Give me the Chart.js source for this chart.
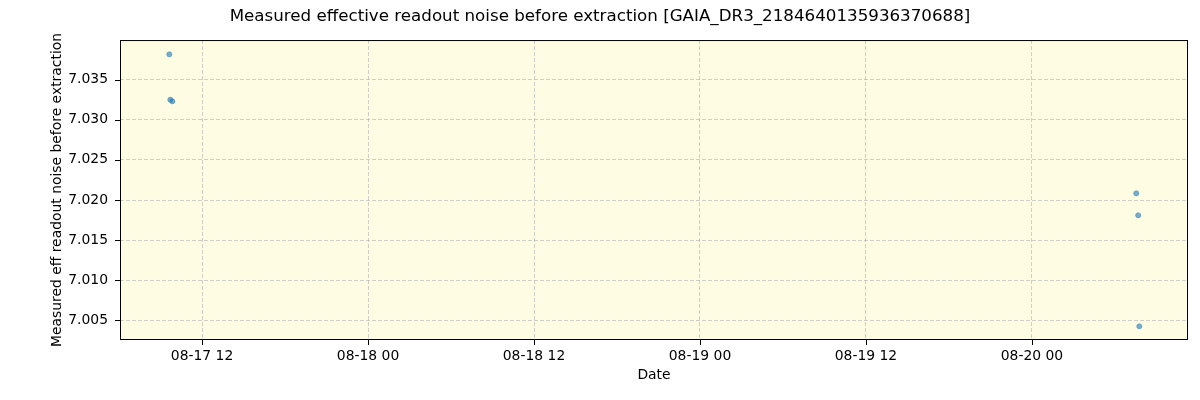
<!DOCTYPE html>
<html>
<head>
<meta charset="utf-8">
<script src="https://cdn.jsdelivr.net/npm/chart.js@4/dist/chart.umd.min.js"></script>
<style>
  html, body { margin: 0; padding: 0; background: #fff; }
  #wrap { width: 1200px; height: 400px; }
</style>
</head>
<body>
<div id="wrap"><canvas id="noiseChart" width="1200" height="400"></canvas></div>
<script>
// hours since 08-17 00:00
const obsHours = [9.636, 9.708, 9.855, 79.54, 79.68, 79.76];
const noiseValues = [7.03814, 7.03249, 7.03229, 7.02083, 7.01810, 7.00428];

const xTickHours = [12, 24, 36, 48, 60, 72];
const xTickLabels = ['08-17 12', '08-18 00', '08-18 12', '08-19 00', '08-19 12', '08-20 00'];
const yTicks = [7.005, 7.010, 7.015, 7.020, 7.025, 7.030, 7.035];

const fontFamily = '"DejaVu Sans", sans-serif';

// plot background, frame and outside tick marks like matplotlib
const framePlugin = {
    id: 'frame',
    beforeDraw(chart) {
        const a = chart.chartArea;
        const ctx = chart.ctx;
        ctx.save();
        ctx.fillStyle = '#fefde3';
        ctx.fillRect(a.left, a.top, a.right - a.left, a.bottom - a.top);
        ctx.restore();
    },
    afterDraw(chart) {
        const a = chart.chartArea;
        const ctx = chart.ctx;
        ctx.save();
        ctx.strokeStyle = '#000';
        ctx.lineWidth = 1;
        ctx.strokeRect(a.left + 0.5, a.top + 0.5, a.right - a.left - 1, a.bottom - a.top - 1);
        ctx.beginPath();
        xTickHours.forEach(h => {
            const px = Math.round(chart.scales.x.getPixelForValue(h)) + 0.5;
            ctx.moveTo(px, a.bottom);
            ctx.lineTo(px, a.bottom + 5);
        });
        yTicks.forEach(v => {
            const py = Math.round(chart.scales.y.getPixelForValue(v)) + 0.5;
            ctx.moveTo(a.left - 5, py);
            ctx.lineTo(a.left, py);
        });
        ctx.stroke();
        ctx.restore();
    }
};

const ctx = document.getElementById('noiseChart').getContext('2d');
const noiseChart = new Chart(ctx, {
    type: 'scatter',
    data: {
        datasets: [{
            label: 'eff readout noise',
            data: obsHours.map((h, i) => ({x: h, y: noiseValues[i]})),
            backgroundColor: 'rgba(31,119,180,0.6)',
            borderColor: 'rgba(31,119,180,0.75)',
            borderWidth: 0.5,
            pointRadius: 2.6
        }]
    },
    options: {
        responsive: false,
        animation: false,
        layout: { padding: 0 },
        plugins: {
            legend: { display: false },
            tooltip: { enabled: false },
            title: {
                display: true,
                text: 'Measured effective readout noise before extraction [GAIA_DR3_2184640135936370688]',
                color: '#000',
                font: { family: fontFamily, size: 16.7, weight: 'normal' },
                padding: { top: 7, bottom: 13 }
            }
        },
        scales: {
            x: {
                type: 'linear',
                min: 6.07,
                max: 83.28,
                afterBuildTicks(scale) {
                    scale.ticks = xTickHours.map(v => ({value: v}));
                },
                afterFit(scale) { scale.height = 60; },
                ticks: {
                    color: '#000',
                    padding: 8,
                    maxRotation: 0,
                    font: { family: fontFamily, size: 13.9 },
                    callback: (value) => xTickLabels[xTickHours.indexOf(value)]
                },
                grid: { color: 'rgba(176,176,176,0.6)', lineWidth: 1, drawTicks: false },
                border: { display: false, dash: [4, 2] },
                title: {
                    display: true,
                    text: 'Date',
                    color: '#000',
                    font: { family: fontFamily, size: 13.9 },
                    padding: { top: 0, bottom: 16.6 }
                }
            },
            y: {
                min: 7.00257,
                max: 7.03992,
                afterBuildTicks(scale) {
                    scale.ticks = yTicks.map(v => ({value: v}));
                },
                afterFit(scale) { scale.width = 120; },
                ticks: {
                    color: '#000',
                    padding: 12,
                    font: { family: fontFamily, size: 13.9 },
                    callback: (value) => value.toFixed(3)
                },
                grid: { color: 'rgba(176,176,176,0.6)', lineWidth: 1, drawTicks: false },
                border: { display: false, dash: [4, 2] },
                title: {
                    display: true,
                    text: 'Measured eff readout noise before extraction',
                    color: '#000',
                    font: { family: fontFamily, size: 13.9 },
                    padding: { top: 48.6, bottom: 0 }
                }
            },
            // empty right margin so the title stays centred on the canvas
            rightGap: {
                position: 'right',
                min: 0,
                max: 1,
                afterFit(scale) { scale.width = 12; },
                ticks: { display: false },
                grid: { display: false },
                border: { display: false }
            }
        }
    },
    plugins: [framePlugin]
});
</script>
</body>
</html>
